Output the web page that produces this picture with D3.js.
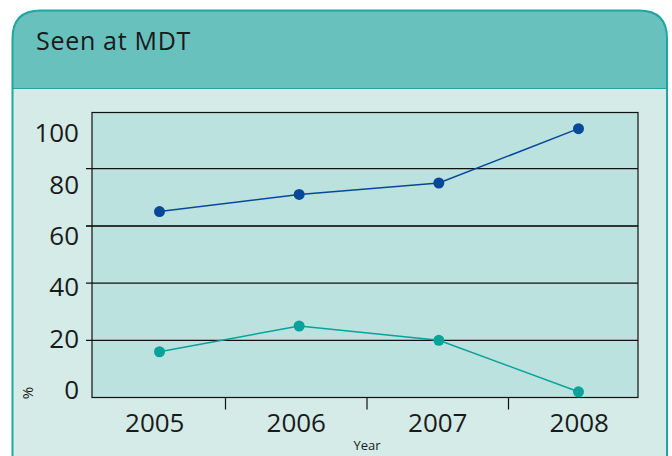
<!DOCTYPE html>
<html>
<head>
<meta charset="utf-8">
<script src="https://cdn.jsdelivr.net/npm/d3@7"></script>
<style>
  body { margin: 0; background: #fff; }
  text { font-family: "Open Sans", "Noto Sans", sans-serif; fill: #1a1a1a; }
</style>
</head>
<body>
<div id="chart"></div>
<script>
const YEARS = ["2005", "2006", "2007", "2008"];
const SERIES_A = [65, 71, 75, 94];   // dark blue
const SERIES_B = [16, 25, 20, 2];    // teal
const Y_TICKS = [0, 20, 40, 60, 80, 100];
const GRID_TICKS = [20, 40, 60, 80];
const TITLE = "Seen at MDT";

const width = 672, height = 456;

const svg = d3.select("#chart")
  .append("svg")
    .attr("width", width)
    .attr("height", height);

// card: rounded top, header band + light body
const cardL = 12.5, cardR = 667, cardT = 10.5, headB = 88.5, r = 28;
const cardPath = "M" + cardL + "," + (height + 5) +
  " L" + cardL + "," + (cardT + r) +
  " Q" + cardL + "," + cardT + " " + (cardL + r) + "," + cardT +
  " L" + (cardR - r) + "," + cardT +
  " Q" + cardR + "," + cardT + " " + cardR + "," + (cardT + r) +
  " L" + cardR + "," + (height + 5) + " Z";

svg.append("path").attr("d", cardPath).attr("fill", "#d5ebe8");

svg.append("clipPath").attr("id", "headClip")
  .append("rect").attr("x", 0).attr("y", 0).attr("width", width).attr("height", headB);
svg.append("path").attr("d", cardPath).attr("fill", "#69c1be")
  .attr("clip-path", "url(#headClip)");

svg.append("line")
  .attr("x1", cardL).attr("x2", cardR).attr("y1", headB).attr("y2", headB)
  .attr("stroke", "#1fa6a0").attr("stroke-width", 1.2);
svg.append("path").attr("d", cardPath).attr("fill", "none")
  .attr("stroke", "#1fa6a0").attr("stroke-width", 2);

svg.append("text")
  .attr("x", 36).attr("y", 50)
  .style("font-size", "25px")
  .style("letter-spacing", "0.7px")
  .text(TITLE);

// plot area
const left = 92, right = 638;
const y = d3.scaleLinear().domain([0, 100]).range([397.5, 111.5]);
// labels sit a little off the gridlines in the original
const yLab = d3.scaleLinear().domain([0, 100]).range([390, 133]);
const x = d3.scalePoint().domain(YEARS).range([159.5, 578.5]);
const xBand = d3.scaleBand().domain(YEARS).range([84, 650]);

svg.append("rect")
  .attr("x", left).attr("y", y(100) + 1)
  .attr("width", right - left).attr("height", y(0) - y(100) - 1)
  .attr("fill", "#bbe2df");

svg.append("g").selectAll("line")
  .data(GRID_TICKS)
  .enter()
  .append("line")
    .attr("x1", left - 6).attr("x2", right)
    .attr("y1", d => y(d)).attr("y2", d => y(d))
    .attr("stroke", d => d == 60 ? "#333" : "#111")
    .attr("stroke-width", d => d == 60 ? 2 : 1.2);

svg.append("rect")
  .attr("x", left).attr("y", y(100) + 1)
  .attr("width", right - left).attr("height", y(0) - y(100) - 1)
  .attr("fill", "none").attr("stroke", "#111").attr("stroke-width", 1.2);

svg.append("g").selectAll("text")
  .data(Y_TICKS)
  .enter()
  .append("text")
    .attr("x", 79)
    .attr("y", d => yLab(d))
    .attr("dy", "0.35em")
    .attr("text-anchor", "end")
    .style("font-size", "26px")
    .text(d => d);

// x axis: separator ticks between years
svg.append("g").selectAll("line")
  .data(YEARS.slice(1))
  .enter()
  .append("line")
    .attr("x1", d => xBand(d)).attr("x2", d => xBand(d))
    .attr("y1", y(0)).attr("y2", y(0) + 12)
    .attr("stroke", "#111").attr("stroke-width", 1.2);

svg.append("g").selectAll("text")
  .data(YEARS)
  .enter()
  .append("text")
    .attr("x", d => xBand(d) + xBand.bandwidth() / 2)
    .attr("y", 432)
    .attr("text-anchor", "middle")
    .style("font-size", "26px")
    .text(d => d);

svg.append("text")
  .attr("x", 367).attr("y", 450)
  .attr("text-anchor", "middle")
  .style("font-size", "13px")
  .text("Year");

svg.append("text")
  .attr("transform", "translate(33,393) rotate(-90)")
  .attr("text-anchor", "middle")
  .style("font-size", "15px")
  .text("%");

// series
function drawSeries(values, color) {
  const pts = YEARS.map((d, i) => [x(d), y(values[i])]);
  svg.append("path")
    .attr("d", d3.line()(pts))
    .attr("fill", "none")
    .attr("stroke", color)
    .attr("stroke-width", 1.5);
  svg.append("g").selectAll("circle")
    .data(pts)
    .enter()
    .append("circle")
      .attr("cx", d => d[0])
      .attr("cy", d => d[1])
      .attr("r", 5.5)
      .attr("fill", color);
}

drawSeries(SERIES_A, "#08489a");
drawSeries(SERIES_B, "#07a29a");
</script>
</body>
</html>
